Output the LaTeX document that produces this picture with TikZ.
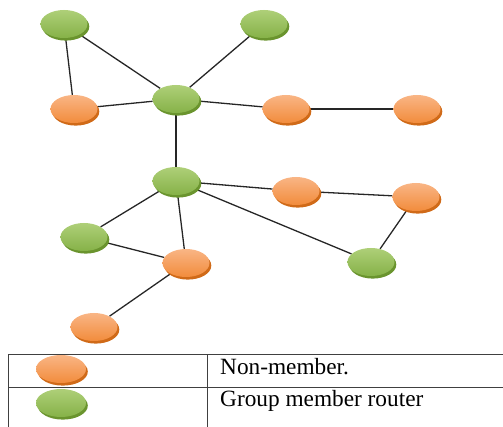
\documentclass[tikz,border=0pt]{standalone}
\usepackage{fontspec}
\setmainfont{Liberation Serif}
\usetikzlibrary{shapes.geometric,shadows,backgrounds}

\definecolor{grnTop}{HTML}{AECF78}
\definecolor{grnBot}{HTML}{86B248}
\definecolor{grnEdge}{HTML}{6A942E}
\definecolor{orgTop}{HTML}{F9B585}
\definecolor{orgBot}{HTML}{F28C3C}
\definecolor{orgEdge}{HTML}{D06A18}
\definecolor{wire}{HTML}{262626}

\tikzset{
  router/.style={ellipse, minimum width=47pt, minimum height=28pt, inner sep=0pt},
  member/.style={router, top color=grnTop, bottom color=grnBot,
    drop shadow={shadow xshift=1.8pt, shadow yshift=-2.6pt, fill=grnEdge, opacity=1}},
  nonmember/.style={router, top color=orgTop, bottom color=orgBot,
    drop shadow={shadow xshift=1.8pt, shadow yshift=-2.6pt, fill=orgEdge, opacity=1}},
  link/.style={draw=wire, line width=1.3pt},
  grid/.style={draw=black!75, line width=0.9pt},
  legendtext/.style={anchor=base west, inner sep=0pt, font=\fontsize{23.3}{28}\selectfont}
}

\begin{document}
\begin{tikzpicture}[x=1pt, y=-1pt]
  \useasboundingbox (0,0) rectangle (503,427);

  % group member routers
  \node[member] (g1) at (64,24) {};
  \node[member] (g2) at (264,24) {};
  \node[member] (g3) at (176,99) {};
  \node[member] (g4) at (176,181) {};
  \node[member] (g5) at (84,237) {};
  \node[member] (g6) at (371,262) {};

  % non-member routers
  \node[nonmember] (o1) at (74,109) {};
  \node[nonmember] (o2) at (286,109) {};
  \node[nonmember] (o3) at (417,109) {};
  \node[nonmember] (o4) at (296,191) {};
  \node[nonmember] (o5) at (416,197) {};
  \node[nonmember] (o6) at (186,263) {};
  \node[nonmember] (o7) at (94,327) {};

  % links
  \begin{scope}[on background layer]
    \draw[link] (g1) -- (o1);
    \draw[link] (g1) -- (g3);
    \draw[link] (g2) -- (g3);
    \draw[link] (o1) -- (g3);
    \draw[link] (g3) -- (o2);
    \draw[link] (o2) -- (o3);
    \draw[link] (g3) -- (g4);
    \draw[link] (g4) -- (o4);
    \draw[link] (o4) -- (o5);
    \draw[link] (o5) -- (g6);
    \draw[link] (g4) -- (g6);
    \draw[link] (g4) -- (g5);
    \draw[link] (g4) -- (o6);
    \draw[link] (g5) -- (o6);
    \draw[link] (o6) -- (o7);
  \end{scope}

  % legend table
  \coordinate (tl) at (8,354);
  \coordinate (tr) at (503,354);
  \coordinate (ml) at (8,387);
  \coordinate (mr) at (503,387);
  \coordinate (bl) at (8,427);
  \coordinate (tm) at (207,354);
  \coordinate (bm) at (207,427);
  \draw[grid] (tl) -- (tr);
  \draw[grid] (ml) -- (mr);
  \draw[grid] (tl) -- (bl);
  \draw[grid] (tm) -- (bm);

  \node[nonmember, minimum width=50pt] (keyo) at (61,369) {};
  \node[member, minimum width=50pt] (keyg) at (61,403) {};
  \node[legendtext] (texto) at (220,374) {Non-member.};
  \node[legendtext] (textg) at (220,406) {Group member router};
\end{tikzpicture}
\end{document}
